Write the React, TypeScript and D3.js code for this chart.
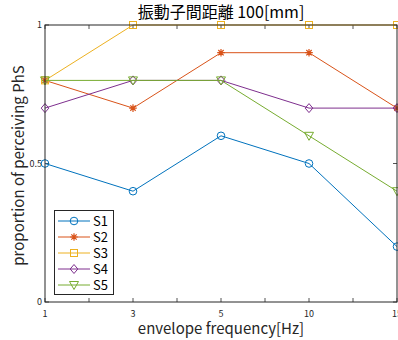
import { useEffect, useRef } from "react";
import * as d3 from "d3";

// envelope frequency categories (evenly spaced on the axis)
const freqLabels = ["1", "3", "5", "10", "15"];

const seriesNames = ["S1", "S2", "S3", "S4", "S5"];
const s1 = [0.5, 0.4, 0.6, 0.5, 0.2];
const s2 = [0.8, 0.7, 0.9, 0.9, 0.7];
const s3 = [0.8, 1, 1, 1, 1];
const s4 = [0.7, 0.8, 0.8, 0.7, 0.7];
const s5 = [0.8, 0.8, 0.8, 0.6, 0.4];
const seriesValues = [s1, s2, s3, s4, s5];

const yTicks = [0, 0.5, 1];

const colors = ["#0072BD", "#D95319", "#EDB120", "#7E2F8E", "#77AC30"];
const markers = ["circle", "star", "square", "diamond", "triangleDown"];

const FONT = "'Noto Sans CJK JP', 'Noto Sans', sans-serif";

function drawMarker(g: any, kind: string, x: number, y: number, color: string) {
  if (kind === "circle") {
    g.append("circle").attr("cx", x).attr("cy", y).attr("r", 3.8)
      .attr("fill", "none").attr("stroke", color).attr("stroke-width", 1);
  } else if (kind === "square") {
    g.append("rect").attr("x", x - 3.5).attr("y", y - 3.5).attr("width", 7).attr("height", 7)
      .attr("fill", "none").attr("stroke", color).attr("stroke-width", 1);
  } else if (kind === "diamond") {
    g.append("path").attr("d", `M${x},${y - 4.5}L${x + 3.8},${y}L${x},${y + 4.5}L${x - 3.8},${y}Z`)
      .attr("fill", "none").attr("stroke", color).attr("stroke-width", 1);
  } else if (kind === "triangleDown") {
    g.append("path").attr("d", `M${x - 4.5},${y - 3.5}L${x + 4.5},${y - 3.5}L${x},${y + 4.5}Z`)
      .attr("fill", "none").attr("stroke", color).attr("stroke-width", 1);
  } else if (kind === "star") {
    const r = 3.8;
    let d = "";
    for (let i = 0; i < 4; i++) {
      const a = (i * Math.PI) / 4;
      d += `M${x - r * Math.cos(a)},${y - r * Math.sin(a)}L${x + r * Math.cos(a)},${y + r * Math.sin(a)}`;
    }
    g.append("path").attr("d", d).attr("stroke", color).attr("stroke-width", 1.2);
  }
}

export default function App() {
  const ref = useRef<SVGSVGElement>(null);

  useEffect(() => {
    if (!ref.current) return;
    const svg = d3.select(ref.current);
    svg.selectAll("*").remove();

    const left = 45, right = 397, top = 25, bottom = 302;
    const axisColor = "#262626";

    const x = d3.scaleLinear().domain([0, freqLabels.length - 1]).range([left, right]);
    const y = d3.scaleLinear().domain([0, 1]).range([bottom, top]);

    svg.append("rect").attr("x", left).attr("y", top)
      .attr("width", right - left).attr("height", bottom - top).attr("fill", "white");

    // ticks (inward, on all four sides)
    const xTickVals = d3.range(0, freqLabels.length - 0.99, 0.5);
    const tg = svg.append("g").attr("stroke", axisColor).attr("stroke-width", 0.8);
    xTickVals.forEach((v) => {
      tg.append("line").attr("x1", x(v)).attr("x2", x(v)).attr("y1", bottom).attr("y2", bottom - 4);
      tg.append("line").attr("x1", x(v)).attr("x2", x(v)).attr("y1", top).attr("y2", top + 4);
    });
    yTicks.forEach((v) => {
      tg.append("line").attr("x1", left).attr("x2", left + 4).attr("y1", y(v)).attr("y2", y(v));
      tg.append("line").attr("x1", right).attr("x2", right - 4).attr("y1", y(v)).attr("y2", y(v));
    });

    // tick labels
    freqLabels.forEach((lab, i) => {
      svg.append("text").attr("x", x(i)).attr("y", bottom + 15)
        .attr("text-anchor", "middle").attr("font-family", FONT).attr("font-size", 9)
        .attr("fill", axisColor).text(lab);
    });
    yTicks.forEach((v) => {
      svg.append("text").attr("x", left - 3).attr("y", y(v)).attr("dy", "0.35em")
        .attr("text-anchor", "end").attr("font-family", FONT).attr("font-size", 9)
        .attr("fill", axisColor).text(d3.format("~g")(v));
    });

    // series
    const line = d3.line<number>().x((_, i) => x(i)).y((d) => y(d));
    seriesValues.forEach((vals, si) => {
      const g = svg.append("g");
      g.append("path").attr("d", line(vals)).attr("fill", "none")
        .attr("stroke", colors[si]).attr("stroke-width", 1);
      vals.forEach((v, i) => drawMarker(g, markers[si], x(i), y(v), colors[si]));
    });

    // box
    svg.append("rect").attr("x", left).attr("y", top)
      .attr("width", right - left).attr("height", bottom - top)
      .attr("fill", "none").attr("stroke", axisColor).attr("stroke-width", 1);

    // legend
    const lg = svg.append("g");
    lg.append("rect").attr("x", 54.5).attr("y", 210.5).attr("width", 59).attr("height", 84)
      .attr("fill", "white").attr("stroke", axisColor).attr("stroke-width", 1);
    seriesNames.forEach((name, si) => {
      const ly = 221 + si * 16;
      lg.append("line").attr("x1", 58).attr("x2", 90).attr("y1", ly).attr("y2", ly)
        .attr("stroke", colors[si]).attr("stroke-width", 1);
      drawMarker(lg, markers[si], 74, ly, colors[si]);
      lg.append("text").attr("x", 93).attr("y", ly).attr("dy", "0.36em")
        .attr("font-family", FONT).attr("font-size", 13).attr("fill", "#000").text(name);
    });

    // title and axis labels
    svg.append("text").attr("x", (left + right) / 2).attr("y", 18)
      .attr("text-anchor", "middle").attr("font-family", FONT).attr("font-size", 16)
      .attr("fill", "#000").text("振動子間距離 100[mm]");
    svg.append("text").attr("x", (left + right) / 2).attr("y", 334)
      .attr("text-anchor", "middle").attr("font-family", FONT).attr("font-size", 15)
      .attr("fill", axisColor).text("envelope frequency[Hz]");
    svg.append("text")
      .attr("transform", `translate(24,${(top + bottom) / 2 + 2}) rotate(-90)`)
      .attr("text-anchor", "middle").attr("font-family", FONT).attr("font-size", 15)
      .attr("fill", axisColor).text("proportion of perceiving PhS");
  }, []);

  return (
    <svg
      ref={ref}
      width={398}
      height={340}
      style={{ position: "absolute", left: 0, top: 0, background: "white" }}
    />
  );
}
